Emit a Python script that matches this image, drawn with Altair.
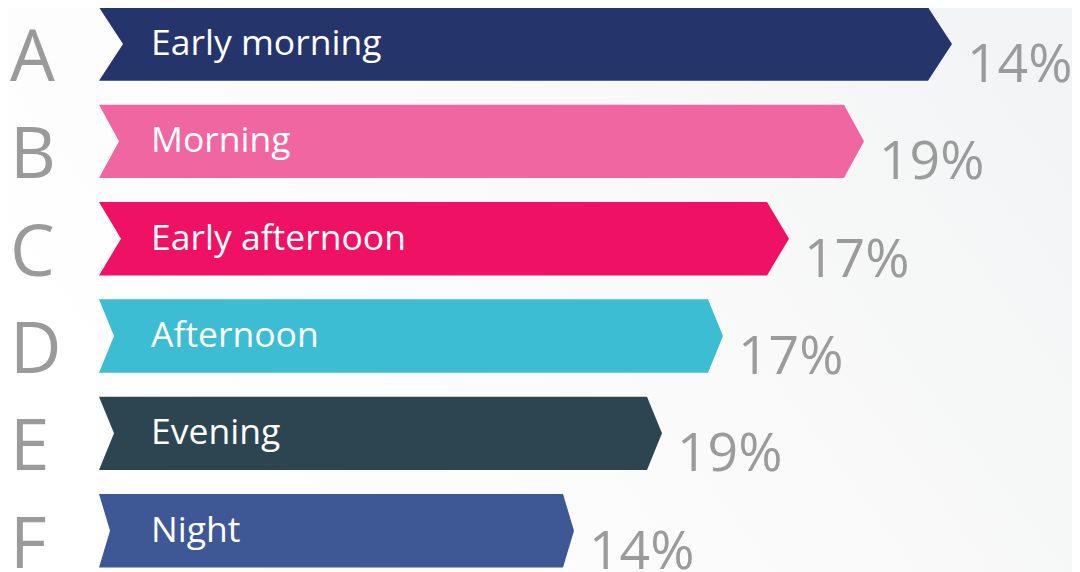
import altair as alt
import pandas as pd

# ---- data ----
letters = ["A", "B", "C", "D", "E", "F"]
categories = ["Early morning", "Morning", "Early afternoon", "Afternoon", "Evening", "Night"]
percent = [14, 19, 17, 17, 19, 14]
bar_length = [829, 745, 668, 609, 548, 464]   # flat part of each ribbon (decorative length)
tip_depth = [24, 20, 22, 15, 15, 11]          # depth of the chevron point / notch
colors = ["#25356B", "#F066A0", "#EF1164", "#3DBDD3", "#2D4550", "#3D5894"]

HALF = 0.377  # half ribbon height, in row units

poly_rows = []
for i, (cat, L, t) in enumerate(zip(categories, bar_length, tip_depth)):
    poly_rows.append({"cat": cat, "pos": i - HALF, "xl": 0, "xr": L})
    poly_rows.append({"cat": cat, "pos": i, "xl": t, "xr": L + t})
    poly_rows.append({"cat": cat, "pos": i + HALF, "xl": 0, "xr": L})
poly = pd.DataFrame(poly_rows)

labels = pd.DataFrame({
    "pos": list(range(len(categories))),
    "letter": letters,
    "cat": categories,
    "pct": [f"{p}%" for p in percent],
    "end": [L + t for L, t in zip(bar_length, tip_depth)],
})

W, H = 1064, 564
PITCH = 97.34
xs = alt.Scale(domain=[-91, 973], nice=False, zero=False)
ys = alt.Scale(domain=[-36 / PITCH, (H - 36) / PITCH], nice=False, zero=False, reverse=True)
FONT = "Open Sans"

bg = alt.Chart(pd.DataFrame({"a": [0]})).mark_rect(
    color=alt.LinearGradient(
        gradient="linear",
        stops=[alt.GradientStop(color="#ffffff", offset=0),
               alt.GradientStop(color="#fbfbfb", offset=0.45),
               alt.GradientStop(color="#f3f4f5", offset=1)],
        x1=0, x2=1, y1=0.6, y2=0.2,
    )
).encode(x=alt.value(0), x2=alt.value(W), y=alt.value(0), y2=alt.value(H))

ribbons = alt.Chart(poly).mark_area(orient="horizontal", interpolate="linear").encode(
    y=alt.Y("pos:Q", scale=ys, axis=None),
    x=alt.X("xl:Q", scale=xs, axis=None, stack=False),
    x2="xr:Q",
    color=alt.Color("cat:N", scale=alt.Scale(domain=categories, range=colors), legend=None),
    detail="cat:N",
)

letter_txt = alt.Chart(labels).mark_text(
    align="left", baseline="alphabetic", dy=37, font=FONT, fontSize=71, color="#9a9a9a"
).encode(x=alt.value(2), y=alt.Y("pos:Q", scale=ys), text="letter:N")

cat_txt = alt.Chart(labels).mark_text(
    align="left", baseline="alphabetic", dy=11, font=FONT, fontSize=35.5, color="#ffffff"
).encode(x=alt.value(143), y=alt.Y("pos:Q", scale=ys), text="cat:N")

pct_txt = alt.Chart(labels).mark_text(
    align="left", baseline="alphabetic", dx=15, dy=38, font=FONT, fontSize=53.5, color="#9b9b9b"
).encode(x=alt.X("end:Q", scale=xs), y=alt.Y("pos:Q", scale=ys), text="pct:N")

chart = alt.layer(bg, ribbons, letter_txt, cat_txt, pct_txt).properties(
    width=W, height=H, autosize=alt.AutoSizeParams(type="none"), padding=0
).configure_view(strokeWidth=0)

chart.save("out.html", embed_options={"renderer": "svg", "actions": False})
